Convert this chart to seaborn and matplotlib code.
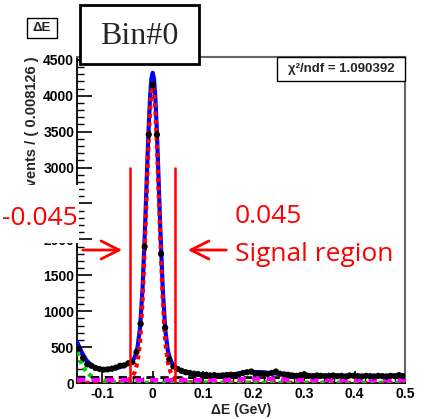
import numpy as np
import matplotlib
matplotlib.use("Agg")
import matplotlib.pyplot as plt
from matplotlib.patches import Rectangle
import seaborn as sns

# ---------------- data ----------------
bin_lo, bin_hi, n_bins = -0.15, 0.5, 80
counts = [480, 350, 260, 240, 210, 195, 185, 190, 200, 215,
          240, 245, 275, 290, 430, 825, 1900, 3460, 4150, 3460,
          1800, 770, 330, 230, 195, 170, 150, 140, 130, 125,
          110, 115, 105, 110, 100, 105, 110, 115, 110, 120,
          140, 150, 160, 130, 135, 130, 125, 140, 160, 130,
          120, 115, 105, 100, 110, 120, 100, 95, 105, 100,
          95, 100, 105, 95, 100, 90, 105, 100, 95, 90,
          100, 95, 90, 100, 95, 90, 100, 95, 110, 95]

total_x = [-0.15, -0.145, -0.14, -0.135, -0.13, -0.12, -0.11, -0.10, -0.09, -0.08,
           -0.07, -0.06, -0.05, -0.045, -0.04, -0.035, -0.03, -0.025, -0.02, -0.015,
           -0.01, -0.0075, -0.005, -0.0025, 0.0, 0.0025, 0.005, 0.0075, 0.01, 0.015,
           0.02, 0.025, 0.03, 0.035, 0.04, 0.045, 0.05, 0.06, 0.07, 0.08,
           0.09, 0.10, 0.12, 0.14, 0.16, 0.17, 0.18, 0.19, 0.20, 0.21,
           0.22, 0.23, 0.24, 0.25, 0.26, 0.28, 0.30, 0.35, 0.40, 0.45, 0.50]
total_y = [575, 490, 420, 360, 305, 240, 205, 190, 188, 195,
           210, 232, 262, 280, 305, 370, 500, 770, 1330, 2200,
           3200, 3640, 4000, 4240, 4320, 4240, 4000, 3640, 3180, 2170,
           1300, 740, 450, 320, 255, 220, 195, 165, 145, 130,
           120, 115, 110, 112, 122, 132, 142, 150, 153, 152,
           148, 142, 135, 127, 120, 110, 105, 100, 100, 100, 100]

sig_x = [-0.15, -0.10, -0.08, -0.06, -0.05, -0.045, -0.04, -0.035, -0.03, -0.025,
         -0.02, -0.015, -0.01, -0.0075, -0.005, -0.0025, 0.0, 0.0025, 0.005, 0.0075,
         0.01, 0.015, 0.02, 0.025, 0.03, 0.035, 0.04, 0.045, 0.05, 0.06, 0.08, 0.10, 0.5]
sig_y = [2, 4, 8, 20, 40, 60, 95, 160, 290, 560,
         1150, 2020, 3010, 3460, 3830, 4060, 4140, 4060, 3830, 3460,
         3010, 2020, 1150, 560, 290, 160, 95, 60, 40, 20, 8, 4, 2]

green_x = [-0.15, -0.145, -0.14, -0.135, -0.13, -0.125, -0.12, -0.11, -0.10, -0.09, -0.08, -0.06, 0.0, 0.5]
green_y = [430, 330, 255, 195, 150, 115, 88, 52, 30, 18, 11, 6, 4, 3]

flat_x = [-0.15, 0.0, 0.2, 0.5]
flat_y = [78, 76, 75, 73]

mag_x = [-0.15, -0.05, 0.1, 0.15, 0.18, 0.2, 0.22, 0.25, 0.3, 0.5]
mag_y = [45, 42, 40, 45, 55, 62, 60, 50, 42, 38]

xtick_vals = [-0.1, 0.0, 0.1, 0.2, 0.3, 0.4, 0.5]
xtick_labels = ["-0.1", "0", "0.1", "0.2", "0.3", "0.4", "0.5"]
ytick_vals = [0, 500, 1000, 1500, 2000, 2500, 3000, 3500, 4000, 4500]
ytick_labels = ["0", "500", "1000", "1500", "2000", "", "3000", "3500", "4000", "4500"]

cut_lo, cut_hi = -0.045, 0.045
cut_top = 3010

# ---------------- figure ----------------
sns.set_style("ticks")
plt.rcParams['font.family'] = ['Liberation Sans', 'DejaVu Sans']

W, H = 424, 419
fig = plt.figure(figsize=(W / 100, H / 100), dpi=100)

def fx(x):
    return x / W

def fy(y):
    return 1 - y / H

ax = fig.add_axes([fx(77), fy(383), (405 - 77) / W, (383 - 57) / H])

edges = np.linspace(bin_lo, bin_hi, n_bins + 1)
centers = 0.5 * (edges[:-1] + edges[1:])
cnt = np.array(counts, dtype=float)

sns.lineplot(x=total_x, y=total_y, ax=ax, color="#0000ff", lw=3.0, zorder=3)
sns.lineplot(x=sig_x, y=sig_y, ax=ax, color="#ff0000", lw=3.0, linestyle=(0, (1, 1)), zorder=4)
sns.lineplot(x=green_x, y=green_y, ax=ax, color="#00cc00", lw=3.0, linestyle=(0, (1, 1)), zorder=4)
sns.lineplot(x=flat_x, y=flat_y, ax=ax, color="black", lw=2.0, linestyle=(0, (3, 2)), zorder=4)
sns.lineplot(x=mag_x, y=mag_y, ax=ax, color="#ff00ff", lw=3.0, linestyle=(0, (2, 1.5)), zorder=4)

ax.errorbar(centers, cnt, yerr=np.sqrt(cnt), fmt='none', ecolor='black', elinewidth=1, zorder=5)
sns.scatterplot(x=centers, y=cnt, ax=ax, color="black", s=20, edgecolor="none", zorder=6)

ax.vlines([cut_lo, cut_hi], 0, cut_top, color="#ff0000", lw=1.8, zorder=7)

ax.set_xlim(bin_lo, bin_hi)
ax.set_ylim(0, 4540)
ax.set_xticks(xtick_vals)
ax.set_xticklabels(xtick_labels)
ax.set_yticks(ytick_vals)
ax.set_yticklabels(ytick_labels)
ax.set_xticks(np.arange(-0.14, 0.5001, 0.02), minor=True)
ax.set_yticks(np.arange(0, 4541, 100), minor=True)
ax.tick_params(axis='both', which='both', direction='in', colors='black')
ax.tick_params(axis='y', which='major', length=11, width=1.2, pad=2, labelsize=10)
ax.tick_params(axis='y', which='minor', length=5, width=1)
ax.tick_params(axis='x', which='major', length=9, width=1.2, pad=3, labelsize=10)
ax.tick_params(axis='x', which='minor', length=4.5, width=1)
for lab in ax.get_xticklabels() + ax.get_yticklabels():
    lab.set_fontweight('bold')
ax.set_xlabel("")
ax.set_ylabel("")
for s in ['left', 'bottom']:
    ax.spines[s].set_color('black')
    ax.spines[s].set_linewidth(1.3)
for s in ['top', 'right']:
    ax.spines[s].set_color('#666666')
    ax.spines[s].set_linewidth(1.5)
ax.spines['top'].set_visible(True)
ax.spines['right'].set_visible(True)

# axis titles
fig.text(fx(241), fy(410), "ΔE (GeV)", ha='center', va='center', fontsize=10, fontweight='bold')
fig.text(fx(32), fy(56), "Events / ( 0.008126 )", rotation=90, ha='center', va='top',
         fontsize=10.5, fontweight='bold')

# white patch covering part of the y axis
fig.add_artist(Rectangle((0, fy(243)), fx(79), (243 - 185) / H, transform=fig.transFigure,
                         facecolor='white', edgecolor='none', zorder=10))

# boxes
fig.add_artist(Rectangle((fx(80), fy(64)), (199 - 80) / W, (64 - 5) / H, transform=fig.transFigure,
                         facecolor='white', edgecolor='black', lw=2, zorder=11))
fig.text(fx(139), fy(36), "Bin#0", ha='center', va='center', fontsize=23,
         family=['Liberation Serif', 'DejaVu Serif'], zorder=12)

fig.add_artist(Rectangle((fx(27), fy(38)), (57 - 27) / W, (38 - 18) / H, transform=fig.transFigure,
                         facecolor='white', edgecolor='black', lw=1, zorder=11))
fig.text(fx(42), fy(28), "ΔE", ha='center', va='center', fontsize=9.5, fontweight='bold', zorder=12)

fig.add_artist(Rectangle((fx(277), fy(81)), (405 - 277) / W, (81 - 57) / H, transform=fig.transFigure,
                         facecolor='white', edgecolor='black', lw=1, zorder=11))
fig.text(fx(341), fy(69), "χ²/ndf = 1.090392", ha='center', va='center', fontsize=9.5,
         fontweight='bold', zorder=12)

# red annotations
red_font = ['Open Sans', 'DejaVu Sans']
fig.text(fx(2), fy(218), "-0.045", ha='left', va='center', fontsize=19, color='#ff0000',
         family=red_font, zorder=12)
fig.text(fx(235), fy(216), "0.045", ha='left', va='center', fontsize=19, color='#ff0000',
         family=red_font, zorder=12)
fig.text(fx(235), fy(254), "Signal region", ha='left', va='center', fontsize=19, color='#ff0000',
         family=red_font, zorder=12)

arrow_style = dict(arrowstyle='->,head_length=1.3,head_width=0.65', color='#ff0000', lw=2)
ax.annotate("", xy=(fx(125), fy(250)), xytext=(fx(80), fy(250)), xycoords='figure fraction',
            textcoords='figure fraction', arrowprops=arrow_style, zorder=12, annotation_clip=False)
ax.annotate("", xy=(fx(185), fy(250)), xytext=(fx(229), fy(250)), xycoords='figure fraction',
            textcoords='figure fraction', arrowprops=arrow_style, zorder=12, annotation_clip=False)

fig.savefig("out.png", dpi=100)
